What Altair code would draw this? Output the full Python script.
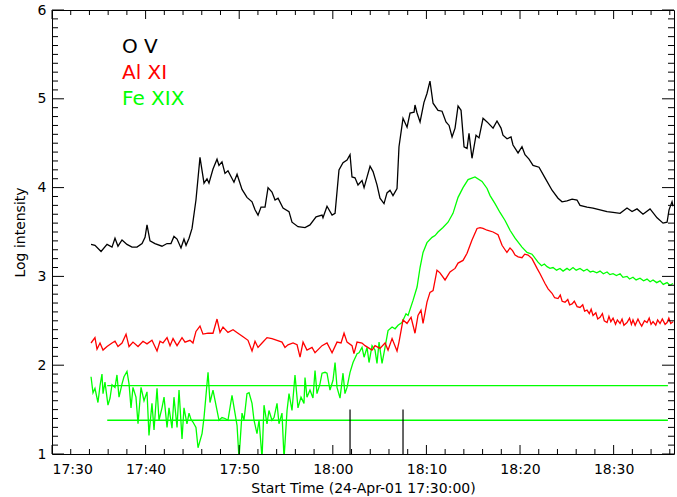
import altair as alt
import pandas as pd

# ---- data (minutes after 17:30, log intensity) ----
ov_t = [4.17, 4.59, 5.24, 5.88, 6.41, 6.73, 7.05, 7.48, 8.01, 8.55, 9.08, 9.62, 9.94, 10.15, 10.47,
        11.0, 11.75, 12.29, 12.71, 13.03, 13.36, 13.78, 14.10, 14.32, 14.64, 14.96, 15.38, 15.81,
        16.24, 16.56, 16.77, 17.20, 17.63, 17.84, 18.16, 18.48, 18.80, 19.44, 19.77, 20.30, 20.83,
        21.37, 21.69, 22.01, 22.33, 22.76, 23.08, 23.50, 23.83, 24.15, 24.68, 25.32, 25.64, 26.28,
        27.03, 27.56, 28.21, 28.85, 28.95, 29.38, 29.92, 30.24, 30.66, 31.09, 31.52, 31.84, 32.05,
        32.37, 32.69, 33.12, 33.34, 33.66, 33.98, 34.30, 34.72, 35.04, 35.47, 35.79, 36.11, 36.43,
        36.86, 37.07, 37.50, 37.93, 38.25, 38.68, 38.78, 39.00, 39.32, 39.74, 40.06, 40.38, 40.71,
        41.24, 41.67, 42.09, 42.42, 42.74, 43.06, 43.38, 43.70, 44.02, 44.34, 44.55, 44.87, 45.30,
        45.62, 46.05, 46.48, 47.12, 47.54, 47.97, 48.18, 48.61, 49.04, 49.25, 49.79, 50.21, 50.53,
        50.96, 51.39, 52.03, 52.67, 53.42, 54.06, 54.49, 55.02, 55.56, 56.09, 56.41, 57.16, 57.80,
        58.55, 59.30, 59.94, 60.69, 61.43, 61.97, 62.50, 63.14, 63.89, 64.64, 65.28, 65.71, 65.92,
        66.24, 66.35]
ov_v = [3.36, 3.35, 3.28, 3.36, 3.33, 3.43, 3.34, 3.41, 3.36, 3.33, 3.33, 3.37, 3.44, 3.58, 3.40,
        3.37, 3.34, 3.37, 3.37, 3.45, 3.42, 3.32, 3.42, 3.35, 3.43, 3.54, 3.86, 4.34,
        4.05, 4.10, 4.05, 4.21, 4.32, 4.25, 4.29, 4.16, 4.19, 4.06, 4.15, 3.98, 3.89,
        3.84, 3.75, 3.69, 3.78, 3.78, 4.00, 3.95, 3.86, 3.88, 3.77, 3.73, 3.61, 3.56,
        3.55, 3.58, 3.67, 3.69, 3.66, 3.79, 3.69, 3.71, 4.20, 4.28, 4.31, 4.37, 4.12,
        4.11, 4.03, 4.08, 4.00, 4.12, 4.24, 4.18, 4.03, 3.88, 3.82, 3.94, 3.97, 3.91,
        3.99, 4.46, 4.78, 4.68, 4.84, 4.85, 4.93, 4.84, 4.74, 4.96, 5.06, 5.20, 4.95,
        4.87, 4.86, 4.74, 4.70, 4.57, 4.67, 4.92, 4.87, 4.46, 4.44, 4.61, 4.33, 4.59,
        4.56, 4.78, 4.74, 4.67, 4.75, 4.67, 4.59, 4.55, 4.57, 4.48, 4.39, 4.46, 4.37,
        4.32, 4.25, 4.23, 4.11, 3.97, 3.88, 3.84, 3.85, 3.87, 3.86, 3.80, 3.78, 3.77,
        3.75, 3.73, 3.72, 3.71, 3.77, 3.73, 3.76, 3.70, 3.76, 3.66, 3.60, 3.61, 3.75,
        3.84, 3.79]

al_t = [4.17, 4.59, 4.81, 5.13, 5.45, 5.88, 6.41, 6.73, 7.05, 7.48, 7.91, 8.23, 8.65, 9.19, 9.72,
        10.15, 10.68, 11.22, 11.54, 11.86, 12.29, 12.61, 12.93, 13.36, 13.89, 14.21, 14.74, 15.06,
        15.38, 15.81, 16.13, 16.67, 17.20, 17.63, 17.95, 18.27, 18.80, 19.34, 19.87, 20.41, 20.94,
        21.37, 21.69, 22.01, 22.44, 22.97, 23.50, 24.04, 24.57, 24.89, 25.21, 25.75, 26.18, 26.50,
        26.82, 27.24, 27.78, 28.10, 28.85, 29.38, 29.92, 30.45, 30.88, 31.20, 31.52, 32.05, 32.26,
        32.59, 33.12, 33.44, 34.19, 34.51, 35.04, 35.58, 35.90, 36.33, 36.86, 37.07, 37.50, 37.93,
        38.36, 38.78, 39.10, 39.42, 39.64, 40.06, 40.38, 40.71, 41.13, 41.45, 41.99, 42.52, 43.06,
        43.38, 43.91, 44.34, 44.87, 45.41, 45.73, 46.05, 46.48, 47.12, 47.65, 48.08, 48.40, 48.60,
        48.93, 49.20, 49.47, 49.80, 50.21, 50.50, 50.86, 51.28, 51.82, 52.14, 52.67, 53.00, 53.42,
        53.70, 54.06, 54.30, 54.50, 54.81, 55.10, 55.30, 55.56, 55.80, 56.10, 56.41, 56.70, 56.90,
        57.16, 57.40, 57.60, 57.80, 58.10, 58.30, 58.55, 58.80, 59.00, 59.30, 59.50, 59.70, 59.94,
        60.20, 60.40, 60.69, 60.90, 61.10, 61.43, 61.70, 61.90, 62.07, 62.30, 62.60, 62.82, 63.00,
        63.30, 63.57, 63.80, 64.00, 64.21, 64.50, 64.70, 64.96, 65.20, 65.50, 65.71, 65.90, 66.10,
        66.35]
al_v = [2.25, 2.31, 2.18, 2.25, 2.17, 2.21, 2.25, 2.27, 2.21, 2.25, 2.35, 2.21, 2.26, 2.21, 2.27,
        2.24, 2.28, 2.16, 2.27, 2.25, 2.31, 2.22, 2.30, 2.22, 2.31, 2.26, 2.28, 2.25,
        2.38, 2.44, 2.35, 2.36, 2.36, 2.52, 2.37, 2.43, 2.37, 2.40, 2.36, 2.32, 2.28,
        2.16, 2.27, 2.20, 2.25, 2.31, 2.30, 2.28, 2.26, 2.20, 2.23, 2.25, 2.23, 2.09,
        2.26, 2.17, 2.20, 2.14, 2.22, 2.25, 2.14, 2.26, 2.25, 2.36, 2.26, 2.22, 2.13,
        2.26, 2.25, 2.22, 2.17, 2.22, 2.19, 2.25, 2.17, 2.30, 2.16, 2.26, 2.51, 2.47,
        2.54, 2.36, 2.56, 2.62, 2.47, 2.71, 2.82, 2.84, 3.07, 3.04, 2.96, 3.05, 3.09,
        3.15, 3.18, 3.26, 3.41, 3.54, 3.55, 3.54, 3.52, 3.50, 3.47, 3.35, 3.30, 3.27,
        3.32, 3.29, 3.24, 3.22, 3.21, 3.25, 3.24, 3.20, 3.09, 3.03, 2.92, 2.86, 2.81,
        2.76, 2.75, 2.79, 2.72, 2.71, 2.74, 2.68, 2.69, 2.72, 2.66, 2.65, 2.68, 2.61,
        2.62, 2.58, 2.63, 2.56, 2.59, 2.52, 2.54, 2.58, 2.50, 2.48, 2.55, 2.49, 2.53,
        2.46, 2.51, 2.47, 2.52, 2.45, 2.48, 2.53, 2.46, 2.51, 2.45, 2.52, 2.47, 2.44,
        2.50, 2.48, 2.53, 2.46, 2.49, 2.45, 2.51, 2.47, 2.52, 2.46, 2.48, 2.53, 2.47,
        2.49]

fe_t = [4.17, 4.38, 4.59, 4.91, 5.13, 5.34, 5.45, 5.66, 5.98, 6.20, 6.41, 6.73, 6.94, 7.16, 7.48,
        7.69, 8.01, 8.23, 8.44, 8.65, 8.97, 9.19, 9.51, 9.83, 10.15, 10.36, 10.68, 10.90, 11.22,
        11.43, 11.75, 11.97, 12.29, 12.50, 12.82, 13.03, 13.36, 13.57, 13.89, 14.10, 14.42, 14.64,
        14.85, 15.06, 15.38, 15.60, 16.03, 16.24, 16.67, 16.88, 17.20, 17.63, 17.84, 18.16, 18.48,
        18.80, 19.23, 19.55, 19.77, 19.98, 20.30, 20.51, 20.83, 21.05, 21.37, 21.58, 21.90, 22.12,
        22.44, 22.65, 22.97, 23.18, 23.50, 23.72, 24.04, 24.25, 24.57, 24.79, 25.11, 25.32, 25.64,
        25.96, 26.28, 26.60, 26.92, 27.03, 27.24, 27.56, 27.88, 28.10, 28.31, 28.63, 28.85, 29.17,
        29.38, 29.70, 30.02, 30.24, 30.45, 30.77, 31.09, 31.30, 31.52, 31.84, 32.16, 32.59, 32.80,
        33.12, 33.34, 33.66, 33.87, 34.19, 34.51, 34.72, 34.94, 35.26, 35.58, 35.90, 36.33, 36.65,
        36.97, 37.39, 37.82, 38.04, 38.57, 39.00, 39.32, 39.64, 40.06, 40.60, 40.92, 41.24, 41.77,
        42.31, 42.84, 43.38, 43.91, 44.45, 45.19, 45.94, 46.48, 46.80, 47.33, 47.86, 48.40, 48.93,
        49.47, 50.21, 50.75, 51.28, 51.92, 52.30, 52.60, 52.89, 53.20, 53.53, 53.90, 54.27, 54.60,
        55.02, 55.30, 55.66, 56.00, 56.41, 56.80, 57.16, 57.50, 57.80, 58.20, 58.55, 58.90, 59.30,
        59.60, 59.94, 60.30, 60.69, 61.00, 61.43, 61.70, 62.07, 62.40, 62.82, 63.20, 63.57, 63.90,
        64.21, 64.60, 64.96, 65.30, 65.71, 66.00, 66.35]
fe_v = [1.87, 1.69, 1.74, 1.58, 1.77, 1.90, 1.68, 1.81, 1.55, 1.63, 1.78, 1.75, 1.89, 1.64, 1.79,
        1.87, 1.93, 1.79, 1.52, 1.75, 1.64, 1.34, 1.75, 1.60, 1.70, 1.21, 1.57, 1.27, 1.74,
        1.38, 1.52, 1.64, 1.30, 1.52, 1.29, 1.64, 1.30, 1.72, 1.17, 1.52, 1.34, 1.46,
        1.39, 1.36, 1.30, 1.07, 1.23, 1.41, 1.92, 1.58, 1.72, 1.49, 1.38, 1.41, 1.40,
        1.38, 1.66, 1.46, 1.32, 0.95, 1.46, 1.38, 1.68, 1.69, 1.57, 1.38, 1.23, 1.38,
        0.95, 1.55, 1.34, 1.49, 1.38, 1.41, 1.57, 1.34, 1.46, 0.95, 1.49, 1.68, 1.49,
        1.89, 1.52, 1.64, 1.57, 1.86, 1.64, 1.72, 1.63, 1.94, 1.68, 1.79, 1.91, 1.92,
        1.91, 1.72, 1.83, 2.03, 1.75, 1.63, 1.91, 1.68, 1.75, 1.92, 2.03, 2.13, 2.14,
        2.20, 2.09, 2.20, 2.03, 2.22, 2.17, 2.02, 2.26, 2.02, 2.20, 2.39, 2.43, 2.41,
        2.45, 2.48, 2.58, 2.56, 2.73, 2.88, 3.10, 3.27, 3.38, 3.44, 3.46, 3.50, 3.55,
        3.61, 3.71, 3.89, 4.00, 4.09, 4.12, 4.07, 3.99, 3.91, 3.82, 3.72, 3.63, 3.52,
        3.43, 3.33, 3.27, 3.25, 3.16, 3.12, 3.14, 3.11, 3.09, 3.10, 3.07, 3.09, 3.06,
        3.09, 3.07, 3.10, 3.07, 3.09, 3.06, 3.08, 3.05, 3.06, 3.04, 3.06, 3.03, 3.05,
        3.02, 3.03, 3.01, 3.03, 2.99, 3.00, 2.97, 2.99, 2.96, 2.98, 2.95, 2.97, 2.94,
        2.96, 2.93, 2.95, 2.91, 2.93, 2.90, 2.92]

# horizontal background levels (green) and event markers (black)
level_values = [1.77, 1.38]
level_start = 5.9
level_end = 65.8
event_times = [31.84, 37.5]
event_tops = [1.5, 1.5]

legend_names = ["O  V", "Al  XI", "Fe  XIX"]
legend_colors = ["#000000", "#ff0000", "#00ff00"]

x_major = [0, 10, 20, 30, 40, 50, 60]
x_labels = ["17:30", "17:40", "17:50", "18:00", "18:10", "18:20", "18:30"]
x_minor = [m for m in range(2, 67, 2) if m % 10 != 0]
y_major = [1, 2, 3, 4, 5, 6]
y_minor = [round(1 + 0.1 * i, 1) for i in range(1, 50) if i % 10 != 0]

X_MAX = 66.45
W, H = 622, 444

xs = alt.Scale(domain=[0, X_MAX], nice=False, zero=False)
ys = alt.Scale(domain=[1, 6], nice=False, zero=False)

label_expr = "[" + ",".join("'%s'" % s for s in x_labels) + "][datum.value/10]"

xaxis = alt.Axis(values=x_major, labelExpr=label_expr, ticks=False, domain=False, grid=False,
                 labelFont="DejaVu Sans", labelFontSize=14, labelColor="black", labelPadding=8,
                 title="Start Time (24-Apr-01 17:30:00)", titleFont="DejaVu Sans", titleFontSize=14,
                 titleFontWeight="normal", titleColor="black", titlePadding=5)
yaxis = alt.Axis(values=y_major, format="d", ticks=False, domain=False, grid=False,
                 labelFont="DejaVu Sans", labelFontSize=14, labelColor="black", labelPadding=6,
                 title="Log intensity", titleFont="DejaVu Sans", titleFontSize=14,
                 titleFontWeight="normal", titleColor="black", titlePadding=10)


def series(t, v, color):
    df = pd.DataFrame({"t": t, "v": v})
    return alt.Chart(df).mark_line(color=color, strokeWidth=1.3, clip=True).encode(
        x=alt.X("t:Q", scale=xs, axis=xaxis), y=alt.Y("v:Q", scale=ys, axis=yaxis))


ov = series(ov_t, ov_v, "#000000")
fe = series(fe_t, fe_v, "#00ff00")
al = series(al_t, al_v, "#ff0000")

lv = pd.DataFrame({"x1": [level_start] * len(level_values), "x2": [level_end] * len(level_values),
                   "y": level_values})
levels = alt.Chart(lv).mark_rule(color="#00ff00", strokeWidth=1.3).encode(
    x=alt.X("x1:Q", scale=xs), x2="x2:Q", y=alt.Y("y:Q", scale=ys))

ev = pd.DataFrame({"x": event_times, "y1": [1] * len(event_times), "y2": event_tops})
events = alt.Chart(ev).mark_rule(color="black", strokeWidth=1.2).encode(
    x=alt.X("x:Q", scale=xs), y=alt.Y("y1:Q", scale=ys), y2="y2:Q")


def xticks(vals, length):
    d = pd.DataFrame({"x": vals})
    bot = alt.Chart(d).mark_rule(color="black", strokeWidth=1).encode(
        x=alt.X("x:Q", scale=xs), y=alt.value(H), y2=alt.value(H - length))
    top = alt.Chart(d).mark_rule(color="black", strokeWidth=1).encode(
        x=alt.X("x:Q", scale=xs), y=alt.value(0), y2=alt.value(length))
    return bot + top


def yticks(vals, length):
    d = pd.DataFrame({"y": vals})
    left = alt.Chart(d).mark_rule(color="black", strokeWidth=1).encode(
        y=alt.Y("y:Q", scale=ys), x=alt.value(0), x2=alt.value(length))
    right = alt.Chart(d).mark_rule(color="black", strokeWidth=1).encode(
        y=alt.Y("y:Q", scale=ys), x=alt.value(W), x2=alt.value(W - length))
    return left + right


ticks = xticks(x_major, 9) + xticks(x_minor, 5) + yticks(y_major, 12) + yticks(y_minor, 6)

legend_layers = []
for i, (name, col) in enumerate(zip(legend_names, legend_colors)):
    legend_layers.append(
        alt.Chart(pd.DataFrame({"n": [name]})).mark_text(
            align="left", baseline="alphabetic", font="DejaVu Sans", fontSize=20, color=col
        ).encode(text="n:N", x=alt.value(70), y=alt.value(43 + 26 * i))
    )

chart = alt.layer(ov, fe, al, levels, events, ticks, *legend_layers).properties(
    width=W, height=H,
    autosize=alt.AutoSizeParams(type="none"),
    padding={"left": 52, "top": 10, "right": 3, "bottom": 43},
    background="white",
).configure_view(stroke="black", strokeWidth=1)

chart.save("out.html", embed_options={"renderer": "svg", "actions": False})
